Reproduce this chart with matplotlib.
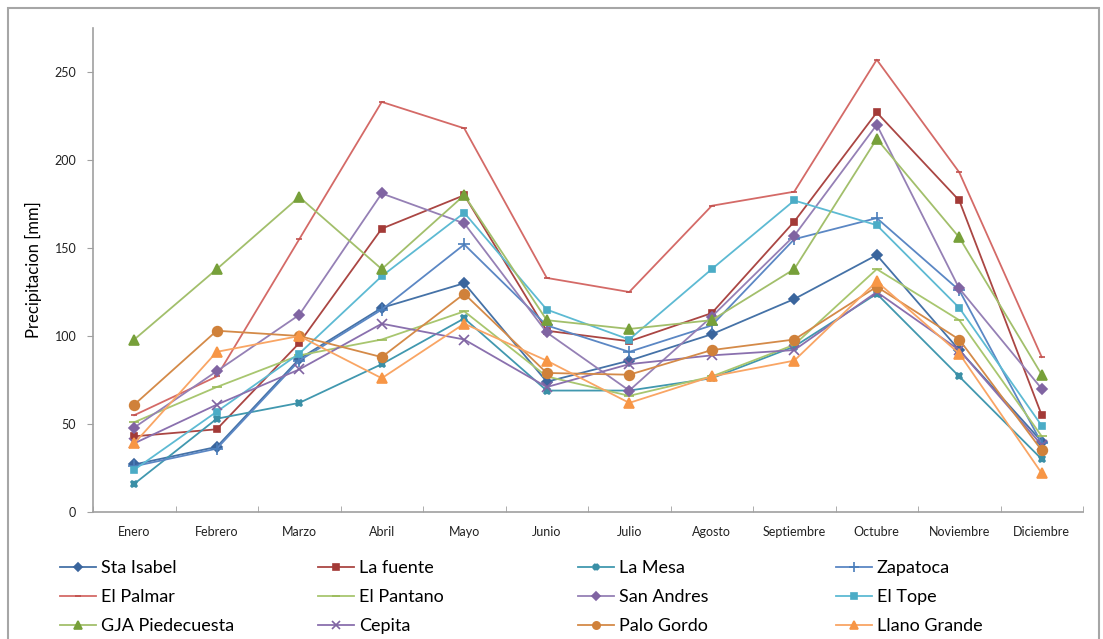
import numpy as np
import matplotlib
matplotlib.use("Agg")
import matplotlib.pyplot as plt
from matplotlib.patches import Rectangle

plt.rcParams['font.family'] = ['Lato', 'DejaVu Sans']

# Data (precipitation in mm)
months = ['Enero', 'Febrero', 'Marzo', 'Abril', 'Mayo', 'Junio', 'Julio',
          'Agosto', 'Septiembre', 'Octubre', 'Noviembre', 'Diciembre']

sta_isabel = [27, 37, 87, 116, 130, 74, 86, 101, 121, 146, 92, 40]
la_fuente = [43, 47, 96, 161, 180, 103, 97, 113, 165, 227, 177, 55]
la_mesa = [16, 53, 62, 84, 110, 69, 69, 76, 94, 124, 77, 30]
zapatoca = [26, 36, 86, 115, 152, 106, 91, 106, 155, 167, 126, 39]
el_palmar = [55, 77, 155, 233, 218, 133, 125, 174, 182, 257, 193, 88]
el_pantano = [51, 71, 89, 98, 114, 77, 66, 77, 95, 138, 109, 43]
san_andres = [48, 80, 112, 181, 164, 102, 69, 111, 157, 220, 127, 70]
el_tope = [24, 57, 90, 134, 170, 115, 98, 138, 177, 163, 116, 49]
gja_piedecuesta = [98, 138, 179, 138, 180, 109, 104, 109, 138, 212, 156, 78]
cepita = [39, 61, 81, 107, 98, 71, 84, 89, 92, 125, 92, 38]
palo_gordo = [61, 103, 100, 88, 124, 79, 78, 92, 98, 128, 98, 35]
llano_grande = [39, 91, 100, 76, 107, 86, 62, 77, 86, 131, 90, 22]

# name, values, line colour, marker, marker colour, marker size
series = [
    ('Sta Isabel', sta_isabel, '#4572A7', 'D', '#3A659D', 5),
    ('La fuente', la_fuente, '#AA4643', 's', '#A33A37', 5),
    ('La Mesa', la_mesa, '#4198AF', 'X', '#3A8FA6', 5),
    ('Zapatoca', zapatoca, '#5B87C4', '+', '#4A7EBB', 9),
    ('El Palmar', el_palmar, '#D46A67', '_', '#C0504D', 5),
    ('El Pantano', el_pantano, '#A8C66F', '_', '#9BBB59', 7),
    ('San Andres', san_andres, '#9580B5', 'D', '#8064A2', 5),
    ('El Tope', el_tope, '#5DBAD3', 's', '#4BACC6', 5),
    ('GJA Piedecuesta', gja_piedecuesta, '#A2BF6B', '^', '#77A03A', 7),
    ('Cepita', cepita, '#8A70AE', 'x', '#8064A2', 7),
    ('Palo Gordo', palo_gordo, '#D48A48', 'o', '#D0813A', 7),
    ('Llano Grande', llano_grande, '#F9A564', '^', '#F79646', 7),
]

fig = plt.figure(figsize=(11.03, 6.39), dpi=100)
W, H = 1103, 639
ax = fig.add_axes([93 / W, 1 - 512 / H, (1083 - 93) / W, (512 - 28) / H])

x = np.arange(len(months))
handles = []
for name, vals, lc, mk, mc, ms in series:
    h, = ax.plot(x, vals, color=lc, lw=1.3, marker=mk, markersize=ms,
                 markerfacecolor=mc, markeredgecolor=mc, markeredgewidth=1.2,
                 label=name)
    handles.append(h)

ax.set_xlim(-0.5, len(months) - 0.5)
ax.set_ylim(0, 275)
ax.set_yticks(np.arange(0, 251, 50))
ax.set_xticks(x)
ax.set_xticklabels(months, fontsize=9, color='#222222')
ax.set_xticks(np.arange(-0.5, len(months), 1), minor=True)
ax.tick_params(axis='x', which='major', length=0, pad=10)
ax.tick_params(axis='x', which='minor', length=4, color='#A0A0A0', direction='in')
ax.tick_params(axis='y', length=4, color='#A0A0A0', labelsize=9,
               labelcolor='#222222', pad=8)
ax.set_ylabel('Precipitacion [mm]', fontsize=12, labelpad=9)

for s in ['top', 'right']:
    ax.spines[s].set_visible(False)
for s in ['left', 'bottom']:
    ax.spines[s].set_color('#A0A0A0')
    ax.spines[s].set_linewidth(1.2)

# legend: one legend per column to match the Excel layout
col_x = [60, 318, 578, 836]
for c in range(4):
    hs = [handles[c + 4 * r] for r in range(3)]
    leg = fig.legend(handles=hs, loc='upper left',
                     bbox_to_anchor=(col_x[c] / W, 1 - 560 / H),
                     frameon=False, fontsize=13, handlelength=2.0,
                     handletextpad=0.25, labelspacing=0.72, markerscale=0.75,
                     borderpad=0, borderaxespad=0)

# outer chart frame
fig.patches.append(Rectangle((8 / W, -0.05), (1099 - 8) / W, 1.05 - 8 / H,
                             transform=fig.transFigure, fill=False,
                             edgecolor='#A6A6A6', lw=1.5))

fig.savefig('out.png', dpi=100)
